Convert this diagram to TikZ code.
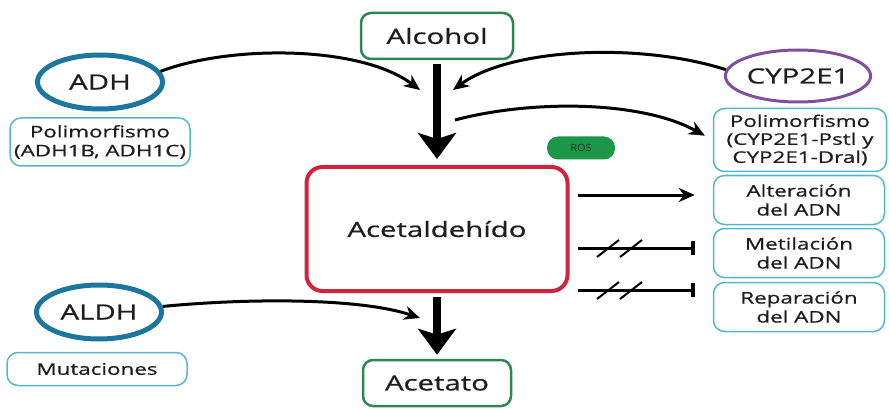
\documentclass[tikz,border=0pt]{standalone}
\usepackage{fontspec}
\setmainfont{Open Sans}[FakeStretch=1.4,FakeBold=0.8]
\newfontfamily\rosfont{Open Sans}[FakeStretch=1.1]
\usetikzlibrary{arrows.meta,shapes.geometric}
\definecolor{SubsClr}{RGB}{46,134,84}
\definecolor{EnzClr}{RGB}{28,118,158}
\definecolor{GenClr}{RGB}{84,184,204}
\definecolor{CypClr}{RGB}{132,78,160}
\definecolor{AceClr}{RGB}{208,36,62}
\definecolor{RosClr}{RGB}{28,150,72}
\definecolor{TxtClr}{RGB}{30,30,30}

\begin{document}
\begin{tikzpicture}[x=1pt,y=-1pt,
  subs/.style={draw=SubsClr,line width=2.5pt,rounded corners=10pt,minimum width=152pt,minimum height=46pt,inner sep=0pt,font=\fontsize{21}{25}\selectfont,text=TxtClr},
  enz/.style={ellipse,draw=EnzClr,line width=5pt,minimum width=125pt,minimum height=54pt,inner sep=0pt,font=\fontsize{21}{25}\selectfont,text=TxtClr},
  gen/.style={draw=GenClr,line width=1.5pt,rounded corners=11pt,align=center,inner sep=0pt,minimum width=171pt,minimum height=49pt,font=\fontsize{16}{19}\selectfont,text=TxtClr},
  flow/.style={line width=3pt,-{Stealth[length=16pt,width=14pt]}},
  main/.style={line width=8pt,-{Stealth[length=26pt,width=38pt,inset=6pt]}},
  inh/.style={line width=3pt,-{Bar[width=14pt,line width=3.5pt]}},
  cut/.style={line width=2pt}]
\useasboundingbox (0,0) rectangle (889,409);

\node[subs] (alc) at (437,36) {Alcohol};
\node[subs,minimum width=148pt] (acto) at (437,383) {Acetato};
\node[draw=AceClr,line width=4pt,rounded corners=16pt,minimum width=261pt,minimum height=124pt,font=\fontsize{21}{25}\selectfont,text=TxtClr] (acld) at (437,229) {Acetaldehído};

\node[enz] (adh) at (100,82) {ADH};
\node[enz] (aldh) at (99,312) {ALDH};
\node[enz,draw=CypClr,line width=3pt,minimum width=127pt,minimum height=52pt] (cyp) at (798,76) {CYP2E1};

\node[gen,minimum width=180pt,minimum height=48pt] (padh) at (100,142) {Polimorfismo\\(ADH1B, ADH1C)};
\node[gen,minimum width=180pt,minimum height=33pt] (mut) at (97,369) {Mutaciones};
\node[gen,minimum width=173pt,minimum height=63pt,font=\fontsize{16}{18}\selectfont] (pcyp) at (800,140) {Polimorfismo\\(CYP2E1-Pstl y\\CYP2E1-Dral)};
\node[gen] (alt) at (799,200) {Alteración\\del ADN};
\node[gen] (met) at (799,253) {Metilación\\del ADN};
\node[gen] (rep) at (799,307) {Reparación\\del ADN};

\node[fill=RosClr,rounded corners=11pt,minimum width=68pt,minimum height=23pt,inner sep=0pt,font=\rosfont\fontsize{10}{12}\selectfont,text=TxtClr!80!RosClr] (ros) at (581,148) {ROS};

\coordinate (inA) at (420,90);
\coordinate (inB) at (453,90);
\coordinate (outP) at (455,120);
\coordinate (inC) at (420,318);

\draw[main,shorten <=4pt,shorten >=6pt] (alc) -- (acld);
\draw[main,shorten <=4pt,shorten >=4pt] (acld) -- (acto);

\draw[flow] (adh.10) .. controls (230,45) and (360,45) .. (inA);
\draw[flow] (cyp.175) .. controls (640,42) and (510,48) .. (inB);
\draw[flow,shorten >=9pt] (outP) .. controls (530,100) and (640,100) .. (pcyp.west);
\draw[flow] (aldh.5) .. controls (250,298) and (360,298) .. (inC);

\draw[flow,shorten <=8pt,shorten >=18pt] (acld.east |- 0,195) -- (alt.west |- 0,195);
\draw[inh,shorten <=8pt,shorten >=18pt] (acld.east |- 0,248) -- (met.west |- 0,248);
\draw[inh,shorten <=8pt,shorten >=18pt] (acld.east |- 0,290) -- (rep.west |- 0,290);
\foreach \y in {248,290}
  \foreach \x in {597,620}
    \draw[cut] (\x,\y+9) -- ++(22,-17);

\end{tikzpicture}
\end{document}
